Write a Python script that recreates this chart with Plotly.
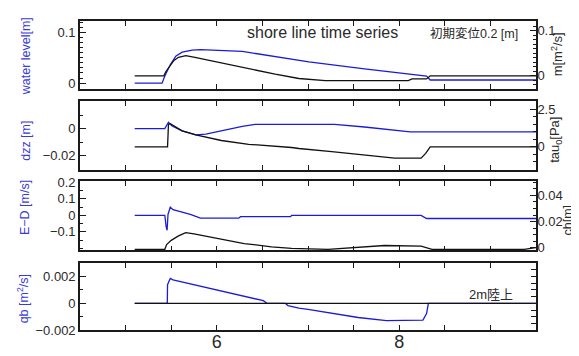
import plotly.graph_objects as go

# ---------------- data ----------------
t_wl = [5.10, 5.40, 5.43, 5.49, 5.55, 5.62, 5.73, 5.82, 6.28, 7.01, 7.62, 7.99, 8.30, 8.34, 9.50]
wl = [0, 0, 0.014, 0.036, 0.053, 0.061, 0.0647, 0.066, 0.0623, 0.042, 0.028, 0.020, 0.0138, 0.0062, 0.0062]

t_m = [5.10, 5.42, 5.44, 5.48, 5.53, 5.58, 5.66, 5.76, 6.09, 6.35, 6.64, 6.90, 7.19, 8.10, 8.14, 8.30, 8.34, 9.50]
m = [0, 0, 0.009, 0.020, 0.034, 0.041, 0.0447, 0.041, 0.027, 0.0149, 0.0035, -0.006, -0.0106, -0.0106, -0.007, -0.007, 0, 0]

t_dzz = [5.10, 5.43, 5.47, 5.51, 5.62, 5.77, 5.88, 6.13, 6.28, 6.42, 7.29, 7.62, 7.99, 8.12, 9.50]
dzz = [0, 0, 0.0047, 0.0019, -0.0017, -0.0046, -0.0041, -0.0005, 0.0016, 0.0031, 0.0031, 0.0012, -0.0017, -0.0024, -0.0024]

t_tau = [5.10, 5.46, 5.47, 5.49, 5.62, 5.77, 6.05, 6.35, 6.82, 6.90, 7.26, 7.63, 7.95, 8.24, 8.29, 8.34, 9.50]
tau = [0, 0, 1.48, 1.53, 1.06, 0.80, 0.42, 0.17, -0.045, -0.11, -0.32, -0.54, -0.75, -0.75, -0.43, 0, 0]

t_ed = [5.10, 5.43, 5.445, 5.455, 5.465, 5.49, 5.52, 5.60, 5.71, 5.82, 6.24, 6.26, 6.81, 6.82, 8.24, 8.30, 9.50]
ed = [0, 0, -0.07, -0.09, 0.006, 0.049, 0.034, 0.021, 0.006, -0.017, -0.017, -0.008, -0.008, 0, 0, -0.019, -0.019]

t_ch = [5.10, 5.43, 5.45, 5.50, 5.58, 5.66, 5.75, 6.00, 6.30, 6.60, 6.82, 7.22, 7.59, 7.84, 8.24, 8.36, 9.37, 9.48, 9.50]
ch = [-0.0012, -0.0012, 0.0024, 0.0056, 0.009, 0.0115, 0.0105, 0.0074, 0.0032, 0.0007, -0.0005, -0.0012, 0.0007, 0.0017, 0.0012, -0.0012, -0.0012, 0.0, 0.0]

t_qb = [5.10, 5.457, 5.46, 5.48, 5.49, 5.52, 6.51, 6.55, 6.75, 6.78, 6.90, 7.00, 7.26, 7.55, 7.86, 8.24, 8.26, 8.30, 8.32, 9.50]
qb = [0, 0, 0.00139, 0.0018, 0.00187, 0.00175, 0.0002, 0, 0, -0.00017, -0.00036, -0.00045, -0.00072, -0.00106, -0.0013, -0.0013, -0.00125, -0.00077, 0, 0]

t_ref = [5.10, 9.50]
ref = [0, 0]

x_ticks = [6, 8]
x_ticktext = ["6", "8"]

# ---------------- style ----------------
W, H = 579, 356
BLUE = "#1c1cd8"
BLUE_T = "#3a3ad8"
BLACK = "#111111"
TXT = "#2a2a2a"
FONT = "Liberation Sans, Arial, Noto Sans CJK JP, sans-serif"

def px(x):
    return x / W

def py(y):
    return 1 - y / H

xdom = [px(72), px(528)]
panels = [(7, 78), (91, 162), (174, 246), (259, 329)]
ydoms = [[py(b), py(t)] for t, b in panels]

fig = go.Figure()
LW = 1.3
fig.add_trace(go.Scatter(x=t_wl, y=wl, mode="lines", line=dict(color=BLUE, width=LW), xaxis="x", yaxis="y"))
fig.add_trace(go.Scatter(x=t_m, y=m, mode="lines", line=dict(color=BLACK, width=LW), xaxis="x", yaxis="y2"))
fig.add_trace(go.Scatter(x=t_dzz, y=dzz, mode="lines", line=dict(color=BLUE, width=LW), xaxis="x2", yaxis="y3"))
fig.add_trace(go.Scatter(x=t_tau, y=tau, mode="lines", line=dict(color=BLACK, width=LW), xaxis="x2", yaxis="y4"))
fig.add_trace(go.Scatter(x=t_ed, y=ed, mode="lines", line=dict(color=BLUE, width=LW), xaxis="x3", yaxis="y5"))
fig.add_trace(go.Scatter(x=t_ch, y=ch, mode="lines", line=dict(color=BLACK, width=LW), xaxis="x3", yaxis="y6"))
fig.add_trace(go.Scatter(x=t_qb, y=qb, mode="lines", line=dict(color=BLUE, width=LW), xaxis="x4", yaxis="y7"))
fig.add_trace(go.Scatter(x=t_ref, y=ref, mode="lines", line=dict(color=BLACK, width=LW), xaxis="x4", yaxis="y8"))

frame = dict(showline=True, linecolor="#1a1a1a", linewidth=1.6, showgrid=False, zeroline=False,
             ticks="inside", tickcolor="#1a1a1a", tickwidth=1.2)

layout = dict(width=W, height=H, margin=dict(l=0, r=0, t=0, b=0),
              paper_bgcolor="white", plot_bgcolor="white", showlegend=False,
              font=dict(family=FONT, color=TXT, size=13))

for i in range(4):
    xn = "xaxis" if i == 0 else f"xaxis{i+1}"
    yl = 2 * i + 1
    layout[xn] = dict(frame, domain=xdom, range=[4.5, 9.5], anchor="y" if yl == 1 else f"y{yl}",
                      mirror="ticks", tickmode="array", tickvals=x_ticks, ticktext=x_ticktext,
                      ticklen=5, showticklabels=(i == 3), tickfont=dict(size=18, color=TXT),
                      ticklabelstandoff=-5,
                      minor=dict(ticks="inside", ticklen=5, tickcolor="#1a1a1a", tickwidth=1.2,
                                 tickmode="linear", tick0=0, dtick=0.5))

def yax(n, xi, dom, rng, side, tickvals, ticktext, minor_dtick, ticklen=6, minorlen=3, labels=True):
    d = dict(frame, domain=dom, range=rng, anchor=("x" if xi == 1 else f"x{xi}"), side=side,
             tickmode="array", tickvals=tickvals, ticktext=ticktext, ticklen=ticklen,
             showticklabels=labels, tickfont=dict(size=13, color=TXT),
             minor=dict(ticks="inside", ticklen=minorlen, tickcolor="#1a1a1a", tickmode="linear",
                        tick0=0, dtick=minor_dtick))
    if side == "right":
        d["overlaying"] = "y" if n == 2 else f"y{n-1}"
        d["ticklabelstandoff"] = -3
    layout["yaxis" if n == 1 else f"yaxis{n}"] = d

M = "\u2212"
yax(1, 1, ydoms[0], [-0.0113, 0.1226], "left", [0, 0.1], ["0", "0.1"], 0.01)
yax(2, 1, ydoms[0], [-0.0291, 0.1219], "right", [0, 0.1], ["0", "0.1"], 0.01)
yax(3, 2, ydoms[1], [-0.0305, 0.0202], "left", [-0.02, 0], [M + "0.02", "0"], 0.01)
yax(4, 2, ydoms[1], [-1.51, 3.01], "right", [0, 2.5], ["0", "2.5"], 0.5)
yax(5, 3, ydoms[2], [-0.211, 0.206], "left", [-0.1, 0, 0.1, 0.2], [M + "0.1", "0", "0.1", "0.2"], 0.05)
yax(6, 3, ydoms[2], [-0.002, 0.0509], "right", [0, 0.02, 0.04], ["0", "0.02", "0.04"], 0.005)
yax(7, 4, ydoms[3], [-0.002, 0.00303], "left", [-0.002, 0, 0.002], [M + "0.002", "0", "0.002"], 0.001)
yax(8, 4, ydoms[3], [-0.002, 0.00303], "right", [-0.002, 0, 0.002], ["", "", ""], 0.0005,
    ticklen=5, minorlen=5, labels=False)

fig.update_layout(**layout)

ann = []
def text(x, y, s, size, color=TXT, angle=0):
    ann.append(dict(x=px(x), y=py(y), xref="paper", yref="paper", text=s, showarrow=False,
                    textangle=angle, font=dict(size=size, color=color, family=FONT),
                    xanchor="center", yanchor="middle"))

text(314.5, 19, "shore line time series", 16)
text(466, 20, "初期変位0.2 [m]", 12.5)
text(483, 292.5, "2m陸上", 13)
text(18, 44, "water level[m]", 12.5, BLUE_T, -90)
text(18, 132, "dzz [m]", 12.5, BLUE_T, -90)
text(17, 202, "E\u2212D [m/s]", 12.5, BLUE_T, -90)
text(15, 296, "qb [m<sup>2</sup>/s]", 12.5, BLUE_T, -90)
text(549, 42, "m[m<sup>2</sup>/s]", 13, TXT, -90)
text(548, 131, "tau<sub>0</sub>[Pa]", 13, TXT, -90)
text(560, 215, "ch[m]", 12.5, TXT, -90)
fig.update_layout(annotations=ann)

fig.write_html("out.html")
